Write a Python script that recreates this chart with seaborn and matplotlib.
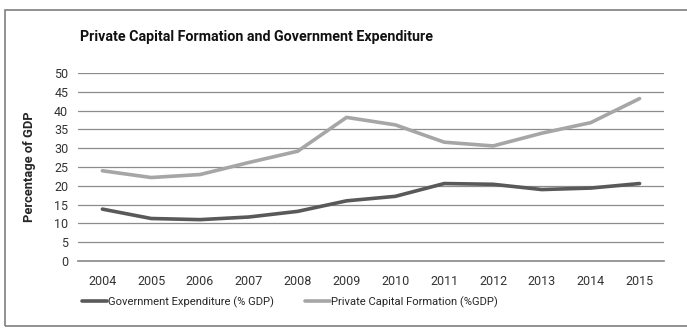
import matplotlib
matplotlib.use("Agg")
import matplotlib.pyplot as plt
import seaborn as sns
import pandas as pd
from matplotlib.patches import Rectangle
from matplotlib.lines import Line2D

years = ["2004", "2005", "2006", "2007", "2008", "2009", "2010", "2011", "2012", "2013", "2014", "2015"]
gov_exp = [13.8, 11.3, 11.0, 11.7, 13.2, 16.0, 17.2, 20.6, 20.4, 19.0, 19.4, 20.6]
priv_cap = [24.0, 22.2, 23.0, 26.2, 29.2, 38.2, 36.2, 31.6, 30.6, 34.0, 36.8, 43.2]
series_names = ["Government Expenditure (% GDP)", "Private Capital Formation (%GDP)"]
y_ticks = [0, 5, 10, 15, 20, 25, 30, 35, 40, 45, 50]

df = pd.DataFrame({
    "Year": years * 2,
    "Value": gov_exp + priv_cap,
    "Series": [series_names[0]] * len(years) + [series_names[1]] * len(years),
})

sns.set_theme(style="white")
plt.rcParams["font.family"] = ["Roboto", "DejaVu Sans"]

fig = plt.figure(figsize=(6.87, 3.28), dpi=100)
ax = fig.add_axes([0.1135, 0.2043, 0.853, 0.5731])

palette = {series_names[0]: "#595959", series_names[1]: "#a6a6a6"}
sns.lineplot(data=df, x="Year", y="Value", hue="Series", palette=palette,
             linewidth=2.6, ax=ax, legend=False, sort=False)

ax.set_xlim(-0.5, len(years) - 0.5)
ax.set_ylim(0, 50)
ax.set_yticks(y_ticks)
ax.set_yticklabels([str(t) for t in y_ticks], fontsize=9, color="#333333")
ax.set_xticks(range(len(years)))
ax.set_xticklabels(years, fontsize=9, color="#333333")
ax.tick_params(axis="y", length=0, pad=7)
ax.tick_params(axis="x", length=0, pad=10)
ax.grid(axis="y", color="#8c8c8c", linewidth=0.9)
ax.set_axisbelow(True)
for s in ["top", "right", "left"]:
    ax.spines[s].set_visible(False)
ax.spines["bottom"].set_color("#8c8c8c")
ax.set_xlabel("")
ax.set_ylabel("Percentage of GDP", fontsize=9.3, fontweight="bold")
ax.yaxis.set_label_coords(-0.072, 0.5)

fig.text(256 / 687, 1 - 37 / 328, "Private Capital Formation and Government Expenditure",
         ha="center", va="center", fontsize=10.3, fontweight="bold", color="#111111")

handles = [Line2D([0], [0], color=palette[n], linewidth=2.6) for n in series_names]
fig.legend(handles, series_names, loc="center", bbox_to_anchor=(290 / 687, 1 - 302 / 328),
           ncol=2, frameon=False, fontsize=8.1, handlelength=2.2, handletextpad=0.1,
           columnspacing=2.8)

fig.patches.append(Rectangle((5 / 687, 2 / 328), 1.2, 1 - 12 / 328, transform=fig.transFigure,
                             fill=False, edgecolor="#7f7f7f", linewidth=1.2))

fig.savefig("out.png", dpi=100)
